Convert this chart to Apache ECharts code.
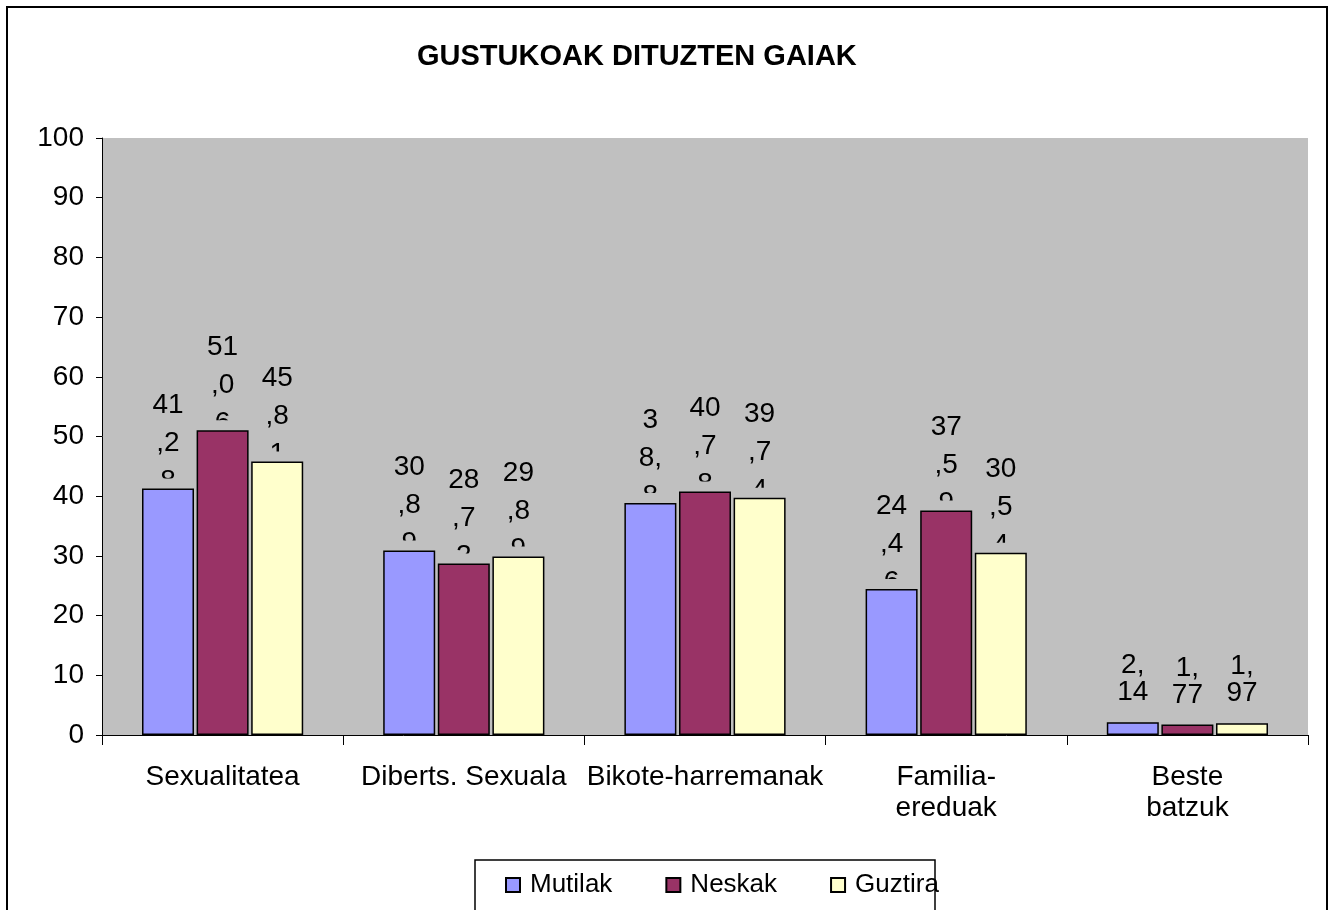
<!DOCTYPE html>
<html>
<head>
<meta charset="utf-8">
<script src="https://cdn.jsdelivr.net/npm/echarts@6/dist/echarts.min.js"></script>
<style>
html,body{margin:0;padding:0;background:#fff;}
#chart{width:1330px;height:910px;}
</style>
</head>
<body>
<div id="chart"></div>
<script>
const titleText = 'GUSTUKOAK DITUZTEN GAIAK';
const categories = ['Sexualitatea', 'Diberts. Sexuala', 'Bikote-harremanak', 'Familia-\nereduak', 'Beste\nbatzuk'];
const seriesNames = ['Mutilak', 'Neskak', 'Guztira'];
const mutilak = [41.28, 30.89, 38.85, 24.46, 2.14];
const neskak  = [51.06, 28.72, 40.78, 37.59, 1.77];
const guztira = [45.81, 29.89, 39.74, 30.54, 1.97];
const mutilakLabels = ['41\n,2\n8', '30\n,8\n9', '3\n8,\n8', '24\n,4\n6', '2,\n14'];
const neskakLabels  = ['51\n,0\n6', '28\n,7\n2', '40\n,7\n8', '37\n,5\n9', '1,\n77'];
const guztiraLabels = ['45\n,8\n1', '29\n,8\n9', '39\n,7\n4', '30\n,5\n4', '1,\n97'];
const yTicks = { min: 0, max: 100, interval: 10 };

const colors = ['#9999FF', '#993366', '#FFFFCC'];
const values = [mutilak, neskak, guztira];
const labelTexts = [mutilakLabels, neskakLabels, guztiraLabels];
const FONT = '"Liberation Sans", Arial, sans-serif';
const PLOT_BG = '#C0C0C0';

function makeFormatter(arr) {
  return function (p) {
    const lines = arr[p.dataIndex].split('\n');
    if (lines.length >= 3) {
      return lines.map(l => '{a|' + l + '}').join('\n');
    }
    return lines.map(l => '{b|' + l + '}').join('\n') + '\n{s| }';
  };
}

const chart = echarts.init(document.getElementById('chart'), null, { renderer: 'canvas' });

const series = [];
// label-only series (drawn beneath the bars)
for (let i = 0; i < 3; i++) {
  series.push({
    name: 'lbl' + i,
    type: 'bar',
    xAxisIndex: 1,
    z: 1,
    silent: true,
    barWidth: 52,
    barGap: '5%',
    data: values[i],
    itemStyle: { color: 'rgba(0,0,0,0)' },
    emphasis: { disabled: true },
    label: {
      show: true,
      position: 'top',
      distance: -12,
      formatter: makeFormatter(labelTexts[i]),
      rich: {
        a: { fontSize: 28, lineHeight: 38, color: '#000', fontFamily: FONT },
        b: { fontSize: 28, lineHeight: 27, color: '#000', fontFamily: FONT },
        s: { fontSize: 8, lineHeight: 28, fontFamily: FONT }
      }
    }
  });
}
// cover series: clips the bottom of the labels just above each bar
for (let i = 0; i < 3; i++) {
  series.push({
    name: 'cov' + i,
    type: 'bar',
    xAxisIndex: 2,
    z: 3,
    silent: true,
    barWidth: 52,
    barGap: '5%',
    data: values[i],
    itemStyle: {
      color: PLOT_BG,
      borderWidth: 0,
      shadowColor: PLOT_BG,
      shadowBlur: 0,
      shadowOffsetX: 0,
      shadowOffsetY: -10
    },
    emphasis: { disabled: true }
  });
}
// real bars
for (let i = 0; i < 3; i++) {
  series.push({
    name: seriesNames[i],
    type: 'bar',
    xAxisIndex: 0,
    z: 5,
    barWidth: 52,
    barGap: '5%',
    data: values[i],
    itemStyle: {
      color: colors[i],
      borderColor: '#000',
      borderWidth: 1.5
    },
    emphasis: { disabled: true }
  });
}

const option = {
  animation: false,
  backgroundColor: '#fff',
  textStyle: { fontFamily: FONT },
  title: {
    text: titleText,
    left: 412,
    top: 37,
    textStyle: { fontSize: 29, fontWeight: 'bold', color: '#000', fontFamily: FONT }
  },
  legend: {
    data: seriesNames,
    left: 505,
    top: 871,
    padding: 0,
    itemWidth: 14,
    itemHeight: 14,
    itemGap: 53,
    icon: 'rect',
    selectedMode: false,
    textStyle: { fontSize: 26, color: '#000', fontFamily: FONT, lineHeight: 28, padding: [0, 0, 0, 5] }
  },
  grid: {
    left: 102, right: 22, top: 138, bottom: 175,
    show: true, backgroundColor: PLOT_BG, borderWidth: 0
  },
  xAxis: [{
    type: 'category',
    data: categories,
    axisLine: { show: true, lineStyle: { color: '#000', width: 1 } },
    axisTick: { show: true, length: 10, alignWithLabel: false, lineStyle: { color: '#000' } },
    axisLabel: { fontSize: 28, lineHeight: 31, color: '#000', margin: 27, fontFamily: FONT, interval: 0 },
    splitLine: { show: false }
  }, {
    type: 'category',
    data: categories,
    show: false
  }, {
    type: 'category',
    data: categories,
    show: false
  }],
  yAxis: {
    type: 'value',
    min: yTicks.min, max: yTicks.max, interval: yTicks.interval,
    axisLine: { show: true, lineStyle: { color: '#000', width: 1 } },
    axisTick: { show: true, length: 6, lineStyle: { color: '#000' } },
    axisLabel: { fontSize: 28, color: '#000', margin: 18, fontFamily: FONT },
    splitLine: { show: false }
  },
  graphic: [
    {
      type: 'rect',
      shape: { x: 7, y: 7, width: 1320, height: 930 },
      style: { fill: 'none', stroke: '#000', lineWidth: 2 },
      z: 100, silent: true
    },
    {
      type: 'rect',
      shape: { x: 475, y: 860, width: 460, height: 80 },
      style: { fill: 'none', stroke: '#000', lineWidth: 1.5 },
      z: 100, silent: true
    }
  ],
  series: series
};

chart.setOption(option);
</script>
</body>
</html>
